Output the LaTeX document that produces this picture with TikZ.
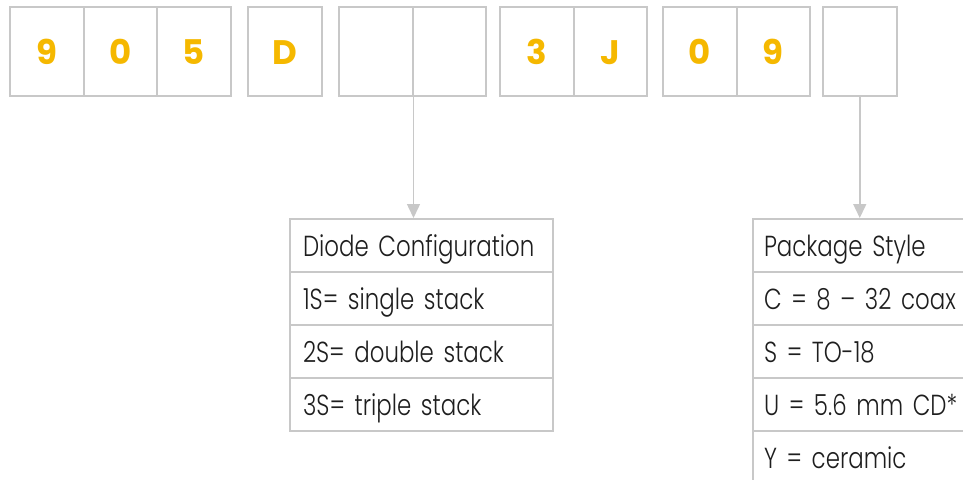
\documentclass[tikz,border=0pt]{standalone}
\usepackage{fontspec}
\setmainfont{Poppins}[UprightFont=* Light, BoldFont=* Bold]
\newfontfamily\celltext{Poppins}[UprightFont=* Light, FakeStretch=0.79, Ligatures=TeX]
\usetikzlibrary{arrows.meta}
\definecolor{bordergray}{HTML}{C8C8C8}
\definecolor{digit}{HTML}{F5B800}
\definecolor{txt}{HTML}{1E1E1E}
\begin{document}
\begin{tikzpicture}[x=1pt,y=-1pt,
  digbox/.style={draw=bordergray,line width=2pt,minimum width=73.5pt,minimum height=89pt,anchor=north west,inner sep=0pt,
     text height=25pt,text depth=0pt,font=\bfseries\fontsize{34}{34}\selectfont,text=digit},
  cell/.style={draw=bordergray,line width=2pt,minimum height=53pt,anchor=north west,inner sep=0pt,
     text width=#1,text height=21pt,text depth=0pt,align=left,font=\celltext\fontsize{29}{30}\selectfont,text=txt},
  conn/.style={draw=bordergray,line width=1.5pt,-{Triangle[length=14pt,width=13pt]}}]
\useasboundingbox (0,0) rectangle (963,479);
\clip (0,0) rectangle (963,479);
% top code boxes
\node[digbox] (b1) at (9,6) {9};
\node[digbox] (b2) at (82.5,6) {0};
\node[digbox] (b3) at (156,6) {5};
\node[digbox] (b4) at (247,6) {D};
\node[digbox] (b5) at (338,6) {};
\node[digbox] (b6) at (411.5,6) {};
\node[digbox] (b7) at (499,6) {3};
\node[digbox] (b8) at (572.5,6) {J};
\node[digbox] (b9) at (662,6) {0};
\node[digbox] (b10) at (735.5,6) {9};
\node[digbox] (b11) at (822,6) {};
% diode configuration table
\node[cell=263pt] (d0) at (289,218) {\hspace*{13pt}Diode Configuration};
\node[cell=263pt] (d1) at (289,271) {\hspace*{13pt}1S= single stack};
\node[cell=263pt] (d2) at (289,324) {\hspace*{13pt}2S= double stack};
\node[cell=263pt] (d3) at (289,377) {\hspace*{13pt}3S= triple stack};
% package style table
\node[cell=240pt] (p0) at (752,218) {\hspace*{11pt}Package Style};
\node[cell=240pt] (p1) at (752,271) {\hspace*{11pt}C = 8 – 32 coax};
\node[cell=240pt] (p2) at (752,324) {\hspace*{11pt}S = TO-18};
\node[cell=240pt] (p3) at (752,377) {\hspace*{11pt}U = 5.6 mm CD*};
\node[cell=240pt] (p4) at (752,430) {\hspace*{11pt}Y = ceramic};
% connectors
\draw[conn] (b5.south east) -- (b5.south east |- d0.north);
\draw[conn] (b11.south) -- (b11.south |- p0.north);
\end{tikzpicture}
\end{document}
